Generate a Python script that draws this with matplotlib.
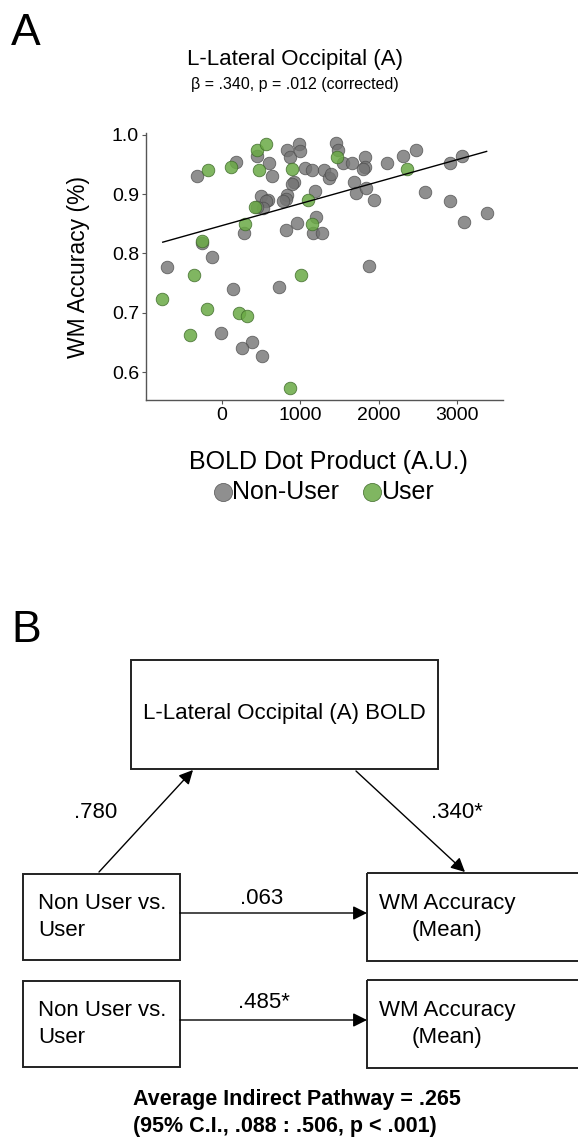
import matplotlib.pyplot as plt
from matplotlib.patches import Rectangle

plt.rcParams['font.family'] = ['Liberation Sans', 'DejaVu Sans']

# panel A data: BOLD dot product (A.U.) vs WM accuracy
nonuser_x = [-706, -323, 175, -252, -124, 443, 600, 639, 826, 979, 864, 996, 1056, 1149,
             1298, 1366, 1388, 1452, 920, 890, 826, 813, 783, 1192, 498, 583, 562, 519,
             443, 281, 817, 962, 1197, 1166, 1277, 1478, 1549, 1656, 1830, 1826, 1797,
             2103, 2312, 2473, 2908, 3061, 1690, 1708, 1835, 1941, 2593, 2916, 3384,
             3095, 1873, 136, 732, -17, 387, 259, 511]
nonuser_y = [0.777, 0.930, 0.954, 0.817, 0.794, 0.965, 0.953, 0.930, 0.975, 0.985, 0.963,
             0.973, 0.944, 0.940, 0.940, 0.927, 0.934, 0.986, 0.920, 0.917, 0.899, 0.892,
             0.889, 0.906, 0.897, 0.890, 0.889, 0.876, 0.878, 0.835, 0.840, 0.851, 0.861,
             0.834, 0.835, 0.974, 0.952, 0.952, 0.963, 0.945, 0.942, 0.953, 0.965, 0.975,
             0.952, 0.965, 0.921, 0.902, 0.910, 0.890, 0.903, 0.889, 0.868, 0.853, 0.779,
             0.740, 0.743, 0.666, 0.650, 0.641, 0.627]
user_x = [-183, 115, -259, 447, 562, 473, 890, 1465, 1102, 421, 298, 1153, 2363, -362,
          1005, -766, -187, 221, 315, -409, 868]
user_y = [0.940, 0.945, 0.821, 0.975, 0.985, 0.940, 0.942, 0.962, 0.890, 0.878, 0.849,
          0.849, 0.943, 0.764, 0.763, 0.724, 0.707, 0.700, 0.694, 0.662, 0.574]

# fitted line as drawn in the figure (ends)
fit_x = [-757, 3380]
fit_y = [0.819, 0.972]

x_ticks = [0, 1000, 2000, 3000]
y_ticks = [0.6, 0.7, 0.8, 0.9, 1.0]

# panel B: mediation model
mediator = "L-Lateral Occipital (A) BOLD"
predictor = "Non User vs.\nUser"
outcome = "WM Accuracy\n(Mean)"
path_a = ".780"
path_b = ".340*"
path_direct = ".063"
path_total = ".485*"
indirect = "Average Indirect Pathway = .265\n(95% C.I., .088 : .506, p < .001)"

W, H = 578, 1144
fig = plt.figure(figsize=(W / 100, H / 100), dpi=100)

# ---- panel A scatter
ax = fig.add_axes([146 / W, 1 - 400 / H, (503 - 146) / W, (400 - 133) / H])
gray = '#737373'
green = '#6aaa45'
ax.scatter(nonuser_x, nonuser_y, s=82, color=gray, alpha=0.8, edgecolor='#4d4d4d',
           linewidth=0.6, zorder=2)
ax.scatter(user_x, user_y, s=82, color=green, alpha=0.85, edgecolor='#3f6b2a',
           linewidth=0.6, zorder=3)
ax.plot(fit_x, fit_y, color='black', lw=1, zorder=4)

ax.set_xlim(-971, 3589)
ax.set_ylim(0.553, 1.003)
ax.set_xticks(x_ticks)
ax.set_yticks(y_ticks)
ax.set_yticklabels([f"{v:.1f}" for v in y_ticks])
ax.tick_params(labelsize=14, length=3, color='#555555', pad=2)
for s in ['top', 'right']:
    ax.spines[s].set_visible(False)
for s in ['left', 'bottom']:
    ax.spines[s].set_color('#555555')
    ax.spines[s].set_linewidth(1)
ax.set_ylabel("WM Accuracy (%)", fontsize=16.5, labelpad=16)

# ---- overlay in pixel coordinates for text and panel B
ov = fig.add_axes([0, 0, 1, 1], zorder=-1)
ov.set_xlim(0, W)
ov.set_ylim(H, 0)
ov.axis('off')

ov.text(11, 45, "A", fontsize=32, va='baseline', ha='left')
ov.text(295, 60, "L-Lateral Occipital (A)", fontsize=16, ha='center', va='center')
ov.text(295, 85, "β = .340, p = .012 (corrected)", fontsize=11.5, ha='center', va='center')
ov.text(328, 462, "BOLD Dot Product (A.U.)", fontsize=18, ha='center', va='center')

# legend
ov.scatter([223], [492], s=170, color=gray, alpha=0.8, edgecolor='#4d4d4d', lw=0.6)
ov.text(232, 492, "Non-User", fontsize=18, ha='left', va='center')
ov.scatter([372], [492], s=170, color=green, alpha=0.85, edgecolor='#3f6b2a', lw=0.6)
ov.text(381, 492, "User", fontsize=18, ha='left', va='center')

ov.text(11, 642, "B", fontsize=32, va='baseline', ha='left')


def box(x0, y0, x1, y1):
    ov.add_patch(Rectangle((x0, y0), x1 - x0, y1 - y0, fill=False, ec='#222222', lw=1.4))


box(131, 660, 438, 769)
ov.text(284.5, 713, mediator, fontsize=16, ha='center', va='center')

for y0, y1 in [(874, 960), (981, 1067)]:
    box(23, y0, 180, y1)
    ov.text(38, (y0 + y1) / 2, predictor, fontsize=16, ha='left', va='center',
            linespacing=1.35)
    box(367, y0 - 1, 600, y1 + 1)
    ov.text(447, (y0 + y1) / 2, outcome, fontsize=16, ha='center', va='center',
            linespacing=1.35)

arrow = dict(arrowstyle='-|>', color='black', lw=1, mutation_scale=21,
             shrinkA=0, shrinkB=0)
ov.annotate("", xy=(193, 770), xytext=(99, 872), arrowprops=arrow)
ov.annotate("", xy=(465, 872), xytext=(356, 771), arrowprops=arrow)
ov.annotate("", xy=(367, 913), xytext=(180, 913), arrowprops=arrow)
ov.annotate("", xy=(367, 1020), xytext=(180, 1020), arrowprops=arrow)

ov.text(96, 813, path_a, fontsize=16, ha='center', va='center')
ov.text(457, 812, path_b, fontsize=16, ha='center', va='center')
ov.text(262, 898, path_direct, fontsize=16, ha='center', va='center')
ov.text(264, 1003, path_total, fontsize=16, ha='center', va='center')
ov.text(133, 1113, indirect, fontsize=15.5, fontweight='bold', ha='left', va='center',
        linespacing=1.4)

fig.savefig("out.png", dpi=100, facecolor='white')
